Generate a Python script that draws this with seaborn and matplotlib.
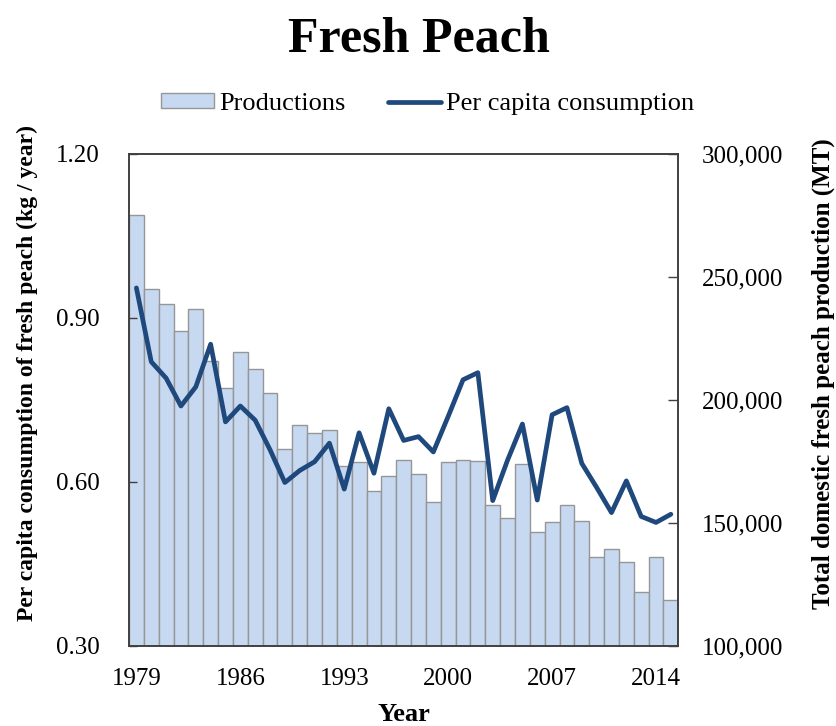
import matplotlib
matplotlib.use('Agg')
import matplotlib.pyplot as plt
import matplotlib.ticker as mticker
import seaborn as sns
import numpy as np

years = list(range(1979, 2016))
production = [275000, 245000, 239000, 228000, 237000, 216000, 205000, 219500,
              212500, 203000, 180000, 190000, 186500, 187700, 173000, 174700,
              163000, 169000, 175500, 170000, 158700, 174700, 175500, 175200,
              157500, 152000, 174000, 146500, 150500, 157500, 151000, 136000,
              139500, 134000, 122000, 136000, 118500]
consumption = [0.955, 0.82, 0.79, 0.739, 0.774, 0.852, 0.71, 0.739, 0.713,
               0.659, 0.599, 0.621, 0.637, 0.671, 0.587, 0.69, 0.616, 0.734,
               0.676, 0.683, 0.655, 0.72, 0.787, 0.80, 0.566, 0.64, 0.706,
               0.567, 0.723, 0.736, 0.634, 0.59, 0.544, 0.602, 0.537, 0.526,
               0.541]
label_years = [1979, 1986, 1993, 2000, 2007, 2014]

bar_color = '#C6D9F1'
bar_edge = '#969696'
line_color = '#1F497D'

sns.set_theme(style='white')
plt.rcParams['font.family'] = ['Liberation Serif', 'DejaVu Serif']
plt.rcParams['text.color'] = 'black'
plt.rcParams['axes.labelcolor'] = 'black'

fig = plt.figure(figsize=(8.37, 7.26), dpi=100)
ax = fig.add_axes([0.1541, 0.1102, 0.6563, 0.6777])

# bars on the main axes, shown with the right-hand scale
sns.barplot(x=years, y=production, color=bar_color, edgecolor=bar_edge,
            linewidth=1.0, width=1.0, saturation=1, errorbar=None, ax=ax)
ax.set_xlim(-0.5, len(years) - 0.5)
ax.set_ylim(100000, 300000)
ax.set_yticks([100000, 150000, 200000, 250000, 300000])
ax.yaxis.set_major_formatter(mticker.FuncFormatter(lambda v, p: f'{int(v):,}'))

# line on the twin axes, shown with the left-hand scale
ax2 = ax.twinx()
sns.lineplot(x=np.arange(len(years)), y=consumption, color=line_color,
             linewidth=3.4, ax=ax2)
ax2.set_ylim(0.30, 1.20)
ax2.set_yticks([0.30, 0.60, 0.90, 1.20])
ax2.yaxis.set_major_formatter(mticker.FormatStrFormatter('%.2f'))
ax2.set_xlim(-0.5, len(years) - 0.5)

# x ticks: labels under every 7th bar, tick marks between categories
pos = [years.index(y) for y in label_years]
ax.set_xticks(pos)
ax.set_xticklabels([str(y) for y in label_years])
ax.set_xticks([p + 6.5 for p in pos[:-1]], minor=True)
ax.tick_params(axis='x', which='major', length=0, pad=16, labelsize=18, colors='black')
ax.tick_params(axis='x', which='minor', direction='in', length=7, width=1, color='#404040', bottom=True)
ax.tick_params(axis='y', direction='in', length=7, width=1, color='#404040',
               pad=17, labelsize=18, labelcolor='black',
               right=True, left=False, labelright=True, labelleft=False)
ax2.tick_params(axis='y', direction='in', length=6, width=1, color='#404040',
                pad=21, labelsize=18, labelcolor='black',
                left=True, right=False, labelleft=True, labelright=False)
ax.yaxis.set_label_position('right')
ax2.yaxis.set_label_position('left')

for a in (ax, ax2):
    for s in a.spines.values():
        s.set_color('#404040')
        s.set_linewidth(1.2)

ax.set_xlabel('Year', fontsize=19, fontweight='bold', labelpad=9)
ax.set_ylabel('Total domestic fresh peach production (MT)', fontsize=18,
              fontweight='bold')
ax2.set_ylabel('Per capita consumption of fresh peach (kg / year)', fontsize=17,
               fontweight='bold')
ax.yaxis.set_label_coords(1.242, 0.553)
ax2.yaxis.set_label_coords(-0.166, 0.554)

fig.suptitle('Fresh Peach', fontsize=36, fontweight='bold', y=0.977, color='black')

handles = [ax.patches[0], ax2.lines[0]]
fig.legend(handles, ['Productions', 'Per capita consumption'], loc='center',
           bbox_to_anchor=(0.511, 0.857), ncol=2, frameon=False, fontsize=19,
           handlelength=2.0, handleheight=0.45, handletextpad=0.2,
           columnspacing=1.6, labelcolor='black')

fig.savefig('out.png', dpi=100)
